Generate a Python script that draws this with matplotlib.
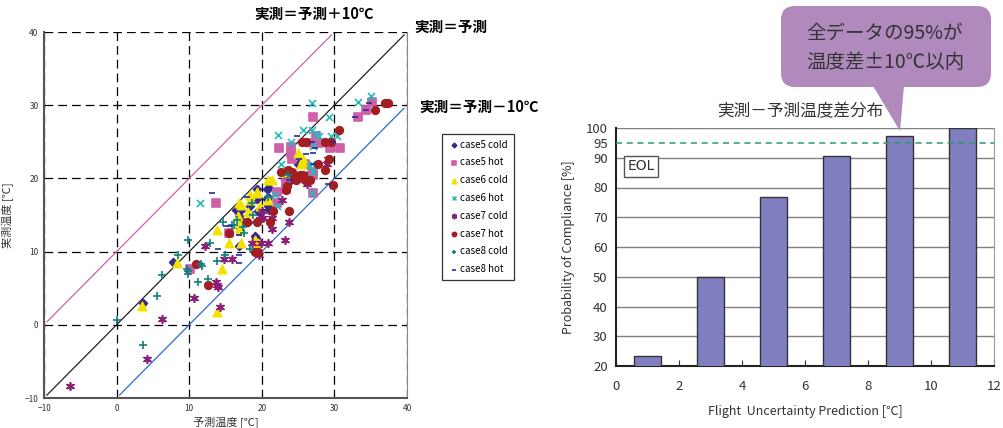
import matplotlib
matplotlib.use("Agg")
import matplotlib.pyplot as plt
from matplotlib.patches import FancyBboxPatch, Polygon

plt.rcParams['font.family'] = ['Noto Sans CJK JP', 'DejaVu Sans']

# --- 左: 実測 vs 予測 散布図 ---
case5_cold_x = [3.6, 7.7, 15.5, 16.9, 16.5, 16.9, 17.0, 16.8, 18.0, 18.4, 19.1, 19.5, 20.8, 19.3, 20.7, 23.2,
                25.0, 25.8, 21.0, 17.4, 18.1, 19.2, 21.0, 20.9, 23.9, 26.4, 19.3, 20.7, 25.3, 17.2, 19.8]
case5_cold_y = [3.0, 8.6, 12.6, 10.8, 15.7, 14.8, 12.8, 13.4, 14.0, 16.2, 12.1, 15.5, 16.2, 18.5, 18.5, 19.8,
                22.0, 21.9, 15.7, 14.1, 14.0, 11.9, 18.7, 17.5, 19.6, 20.5, 17.2, 17.2, 22.1, 15.7, 15.3]
case5_hot_x = [13.7, 22.4, 24.0, 24.1, 27.0, 27.5, 27.0, 27.9, 29.4, 30.8, 33.2, 34.4, 35.2, 27.1, 27.1, 23.4,
               22.1, 25.9, 10.1, 15.5, 24.0, 27.1, 23.4, 22.1]
case5_hot_y = [16.7, 24.2, 23.5, 22.6, 28.4, 25.8, 24.8, 24.8, 24.2, 24.2, 28.4, 29.4, 30.4, 20.5, 18.0, 18.5,
               16.6, 21.9, 7.6, 12.5, 24.3, 20.9, 19.4, 18.2]
case6_cold_x = [3.5, 8.3, 13.8, 13.8, 14.5, 15.5, 17.1, 18.1, 16.7, 17.0, 16.8, 19.1, 19.5, 20.8, 18.4, 19.4,
                20.9, 21.4, 23.3, 25.0, 25.5, 25.7, 25.4, 16.8, 17.0, 18.4, 19.3, 17.2, 19.8]
case6_cold_y = [2.6, 8.4, 1.8, 13.0, 7.6, 11.2, 11.2, 15.4, 14.8, 13.4, 16.6, 11.6, 11.2, 17.1, 17.1, 18.0,
                19.8, 19.8, 20.9, 23.5, 22.3, 22.7, 21.9, 13.9, 13.0, 17.8, 18.2, 16.4, 16.2]
case6_hot_x = [11.5, 22.3, 24.0, 25.7, 26.9, 26.9, 29.3, 29.6, 30.4, 22.6, 27.1, 26.9, 27.1, 26.9, 33.3, 35.1,
               27.9, 22.1, 21.8, 26.6, 27.5]
case6_hot_y = [16.7, 25.9, 25.0, 26.6, 26.6, 30.3, 28.4, 25.8, 25.8, 21.9, 24.4, 21.9, 20.9, 18.0, 30.4, 31.3,
               25.8, 16.2, 17.8, 21.7, 26.0]
case7_cold_x = [-6.4, 4.2, 6.3, 10.6, 14.2, 13.7, 14.0, 13.8, 12.2, 15.9, 19.6, 20.8, 23.2, 21.4, 23.7, 20.1,
                21.4, 19.9, 22.8, 26.2, 29.0, 29.1, 14.8, 18.6, 20.0, 19.8]
case7_cold_y = [-8.4, -4.7, 0.8, 3.7, 2.5, 5.8, 5.2, 5.4, 10.7, 9.0, 9.6, 11.2, 11.6, 13.1, 14.0, 14.6,
                14.6, 11.2, 17.1, 19.3, 22.0, 22.7, 9.0, 11.2, 15.5, 14.4]
case7_hot_x = [10.9, 12.6, 15.5, 18.0, 19.1, 19.5, 21.1, 21.5, 23.8, 23.3, 24.1, 25.3, 25.7, 26.6, 24.7, 27.8,
               28.7, 29.3, 29.8, 30.7, 25.6, 26.1, 28.7, 29.6, 35.6, 37.0, 37.4, 22.7, 19.3, 23.5, 24.3,
               25.0, 26.0, 23.6]
case7_hot_y = [8.3, 5.5, 12.5, 14.0, 10.0, 9.9, 14.0, 15.5, 15.5, 18.4, 20.9, 20.5, 20.5, 19.8, 19.8, 21.9,
               21.1, 22.6, 19.1, 26.6, 25.0, 25.0, 25.0, 25.0, 29.4, 30.3, 30.3, 20.9, 14.0, 18.9, 20.6,
               20.0, 19.8, 21.1]
case8_cold_x = [0.1, 3.6, 5.5, 6.3, 8.5, 9.9, 9.8, 9.7, 9.9, 11.7, 11.6, 11.2, 12.6, 12.8, 13.8, 14.6, 14.9,
                15.9, 16.2, 16.6, 17.4, 18.4, 18.8, 18.6, 20.8, 23.6, 17.6]
case8_cold_y = [0.6, -2.8, 4.0, 6.8, 9.5, 11.6, 7.3, 7.6, 6.9, 8.0, 8.3, 5.9, 6.2, 11.2, 8.7, 14.0, 9.5,
                13.7, 13.7, 14.3, 13.3, 10.3, 15.0, 16.7, 17.4, 20.5, 12.6]
case8_hot_x = [14.0, 15.0, 16.9, 16.9, 20.5, 13.1, 24.8, 26.1, 27.1, 23.8, 26.9, 29.8, 29.1, 32.9, 34.3, 34.8,
               15.6, 16.8, 27.1, 25.1, 27.3, 17.9]
case8_hot_y = [10.3, 13.5, 9.5, 12.3, 15.7, 18.0, 25.8, 23.4, 23.5, 19.8, 25.0, 25.0, 19.2, 28.4, 29.4, 30.3,
               13.5, 8.4, 21.9, 22.7, 24.2, 17.5]

# 基準線 (実測 = 予測 + offset)
line_offsets = [10, 0, -10]
line_x0 = [-9.6, -9.6, 0.4]
line_x1 = [29.6, 39.6, 39.6]

# --- 右: 温度差分布 ---
bar_x = [1, 3, 5, 7, 9, 11]
bar_y = [23.5, 49.8, 76.9, 90.5, 97.2, 100]

W, H = 1004, 428
fig = plt.figure(figsize=(W / 100, H / 100), dpi=100)

ax = fig.add_axes([44 / W, 1 - 398 / H, (407 - 44) / W, (398 - 32) / H])
ax.set_xlim(-10, 40)
ax.set_ylim(-10, 40)
ax.set_xticks(range(-10, 41, 10))
ax.set_yticks(range(-10, 41, 10))
ax.grid(True, color='black', linestyle=(0, (7, 4)), linewidth=0.9)
ax.set_axisbelow(True)
ax.tick_params(length=0, labelsize=6, colors='#333333', pad=4)
ax.spines['top'].set_visible(False)
ax.spines['right'].set_color('#888888')
for s in ['left', 'bottom']:
    ax.spines[s].set_color('#555555')
    ax.spines[s].set_linewidth(1.5)

line_colors = ['#D060A8', '#222222', '#2E6BC8']
for off, x0, x1, c in zip(line_offsets, line_x0, line_x1, line_colors):
    ax.plot([x0, x1], [x0 + off, x1 + off], color=c, linewidth=0.9, zorder=2)

series = [
    (case5_cold_x, case5_cold_y, 'case5 cold', 'D', '#38288C', 16),
    (case5_hot_x, case5_hot_y, 'case5 hot', 's', '#CF5FA6', 30),
    (case6_cold_x, case6_cold_y, 'case6 cold', '^', '#F2E200', 36),
    (case6_hot_x, case6_hot_y, 'case6 hot', 'x', '#22BDBD', 26),
    (case7_cold_x, case7_cold_y, 'case7 cold', (6, 2, 0), '#8A1F78', 30),
    (case7_hot_x, case7_hot_y, 'case7 hot', 'o', '#A31E22', 30),
    (case8_cold_x, case8_cold_y, 'case8 cold', '+', '#0E8080', 40),
    (case8_hot_x, case8_hot_y, 'case8 hot', '_', '#2A2A9E', 22),
]
handles = []
for xs, ys, lab, mk, col, sz in series:
    h = ax.scatter(xs, ys, marker=mk, s=sz, color=col, linewidths=1.2, label=lab, zorder=3)
    handles.append(h)

ax.set_xlabel('予測温度 [℃]', fontsize=8, color='#333333', labelpad=3)
ax.set_ylabel('実測温度 [℃]', fontsize=8, color='#333333', labelpad=8)

leg = fig.legend(handles=handles, loc='upper left', bbox_to_anchor=(437 / W, 1 - 129 / H),
                 fontsize=7, frameon=True, fancybox=False, edgecolor='black',
                 handletextpad=0.1, labelspacing=0.8, borderpad=0.6, markerscale=0.55,
                 handlelength=1.2)
leg.get_frame().set_linewidth(0.9)

# 右グラフ
ax2 = fig.add_axes([616 / W, 1 - 366 / H, (994 - 616) / W, (366 - 128) / H])
ax2.bar(bar_x, bar_y, width=0.85, color='#8080C0', edgecolor='#333333', linewidth=1, zorder=3)
ax2.set_xlim(0, 12)
ax2.set_ylim(20, 100)
ax2.set_xticks(range(0, 13, 2))
ax2.set_yticks(range(20, 101, 10))
ax2.set_yticks([95], minor=True)
ax2.set_yticklabels(['95'], minor=True, fontsize=8)
ax2.yaxis.grid(True, which='major', color='#808080', linewidth=1)
ax2.set_axisbelow(True)
ax2.axhline(95, color='#2E9A6E', linestyle=(0, (4, 3)), linewidth=1.1, zorder=4)
ax2.tick_params(axis='y', which='both', length=0, labelsize=9.5, colors='#333333', pad=6)
ax2.tick_params(axis='x', direction='in', length=4, labelsize=9.5, colors='#333333', pad=10)
ax2.spines['top'].set_visible(False)
ax2.spines['right'].set_color('#999999')
for s in ['left', 'bottom']:
    ax2.spines[s].set_color('#222222')
    ax2.spines[s].set_linewidth(1.5)
ax2.set_xlabel('Flight  Uncertainty Prediction [℃]', fontsize=9, color='#333333', labelpad=9)
ax2.set_ylabel('Probability of Compliance [%]', fontsize=9, color='#333333', labelpad=8)
ax2.text(0.03, 0.84, 'EOL', transform=ax2.transAxes, fontsize=10, color='#333333',
         ha='left', va='center', family=['DejaVu Sans'],
         bbox=dict(boxstyle='square,pad=0.25', facecolor='white', edgecolor='#555555', linewidth=1))

# 注記用の重ね合わせ軸 (ピクセル座標)
ov = fig.add_axes([0, 0, 1, 1], zorder=5)
ov.set_xlim(0, W)
ov.set_ylim(H, 0)
ov.axis('off')

bold = dict(fontsize=10.5, fontweight='bold', color='black', va='center', ha='left')
ov.text(254, 14, '実測＝予測＋10℃', **bold)
ov.text(414, 27, '実測＝予測', **bold)
ov.text(419, 107, '実測＝予測－10℃', **bold)

ov.text(800, 112, '実測－予測温度差分布', fontsize=12, color='#333333', ha='center', va='center')

callout_col = '#B089BD'
ov.add_patch(FancyBboxPatch((781, 6), 210, 81, boxstyle='round,pad=0,rounding_size=14',
                            facecolor=callout_col, edgecolor='none'))
ov.add_patch(Polygon([[873, 86], [904, 86], [900, 131]], closed=True,
                     facecolor=callout_col, edgecolor='none'))
ov.text(885, 33, '全データの95%が', fontsize=14, color='#333333', ha='center', va='center')
ov.text(885, 62, '温度差±10℃以内', fontsize=14, color='#333333', ha='center', va='center')

fig.savefig('out.png', dpi=100)
